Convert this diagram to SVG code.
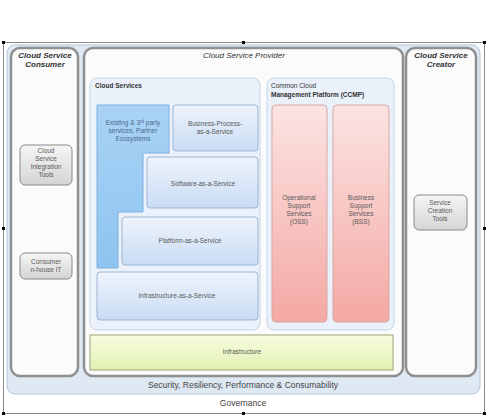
<svg xmlns="http://www.w3.org/2000/svg" width="487" height="418" viewBox="0 0 487 418">
<defs>
<linearGradient id="gBlue" x1="0" y1="0" x2="0" y2="1"><stop offset="0" stop-color="#eef3fb"/><stop offset="1" stop-color="#c9dcf4"/></linearGradient>
<linearGradient id="gPink" x1="0" y1="0" x2="0" y2="1"><stop offset="0" stop-color="#fbe4e2"/><stop offset="1" stop-color="#f4a8a4"/></linearGradient>
<linearGradient id="gGreen" x1="0" y1="0" x2="0" y2="1"><stop offset="0" stop-color="#f8fde0"/><stop offset="1" stop-color="#e0f0b0"/></linearGradient>
<linearGradient id="gGray" x1="0" y1="0" x2="0" y2="1"><stop offset="0" stop-color="#f6f6f6"/><stop offset="1" stop-color="#d4d4d4"/></linearGradient>
<linearGradient id="gL" x1="0" y1="0" x2="0" y2="1"><stop offset="0" stop-color="#a9d3f5"/><stop offset="1" stop-color="#8ec4f0"/></linearGradient>
</defs>
<style>
.col{fill:#fbfbfb;stroke:#8f8f8f;stroke-width:2.5}
.panel{fill:#eaf1fa;stroke:#c5d5e6;stroke-width:1}
.box{fill:url(#gBlue);stroke:#9fb6d2;stroke-width:1}
.pink{fill:url(#gPink);stroke:#d7a7a4;stroke-width:1}
.tool{fill:url(#gGray);stroke:#8a8a8a;stroke-width:1}
.t{font-family:"Liberation Sans",Arial,sans-serif;font-size:6.5px;fill:#5a5a5a;text-anchor:middle}
.h{font-family:"Liberation Sans",Arial,sans-serif;font-size:8px;font-weight:bold;font-style:italic;fill:#333;text-anchor:middle}
.s{font-family:"Liberation Sans",Arial,sans-serif;font-size:6.5px;font-weight:bold;fill:#333}
.b{font-family:"Liberation Sans",Arial,sans-serif;font-size:8.5px;fill:#444;text-anchor:middle}
.hd{fill:#000}
</style>
<rect x="3.5" y="42.5" width="481" height="371" fill="#ffffff" stroke="#8a8a8a" stroke-width="1"/>
<g id="security">
<rect x="7" y="45" width="473" height="349" rx="8" fill="#dfe9f4" stroke="#b5c6d8" stroke-width="1"/>
<text class="b" x="243" y="388">Security, Resiliency, Performance &amp; Consumability</text>
</g>
<g id="governance"><text class="b" x="243" y="406">Governance</text></g>
<g id="consumer">
<rect class="col" x="11" y="48" width="67" height="328" rx="9"/>
<text class="h" x="45" y="58">Cloud Service</text>
<text class="h" x="45" y="67">Consumer</text>
</g>
<g id="provider">
<rect class="col" x="84" y="48" width="319" height="328" rx="9"/>
<text class="h" x="244" y="58" style="font-weight:normal">Cloud Service Provider</text>
</g>
<g id="creator">
<rect class="col" x="406" y="48" width="70" height="328" rx="9"/>
<text class="h" x="441" y="58">Cloud Service</text>
<text class="h" x="441" y="67">Creator</text>
</g>
<g id="cloud-services">
<rect class="panel" x="90" y="78" width="170" height="252" rx="7"/>
<text class="s" x="95" y="88">Cloud Services</text>
</g>
<g id="ccmp">
<rect class="panel" x="267" y="78" width="127" height="252" rx="7"/>
<text class="s" x="271" y="88" style="font-weight:normal">Common Cloud</text>
<text class="s" x="271" y="97">Management Platform (CCMP)</text>
</g>
<g id="existing">
<path d="M97,105 H169 V153 H143 V212 H118 V268 H97 Z" fill="url(#gL)" stroke="#7fb0de" stroke-width="1"/>
<text class="t" x="133" y="125" style="fill:#4a6a8a">Existing &amp; 3<tspan font-size="4.5" dy="-2">rd</tspan><tspan dy="2"> party</tspan></text>
<text class="t" x="133" y="133" style="fill:#4a6a8a">services, Partner</text>
<text class="t" x="133" y="141" style="fill:#4a6a8a">Ecosystems</text>
</g>
<g id="bpaas">
<rect class="box" x="173" y="105" width="85" height="46" rx="3"/>
<text class="t" x="215" y="126">Business-Process-</text>
<text class="t" x="215" y="134">as-a-Service</text>
</g>
<g id="saas">
<rect class="box" x="147" y="157" width="111" height="51" rx="3"/>
<text class="t" x="203" y="186">Software-as-a-Service</text>
</g>
<g id="paas">
<rect class="box" x="122" y="217" width="136" height="48" rx="3"/>
<text class="t" x="190" y="243">Platform-as-a-Service</text>
</g>
<g id="iaas">
<rect class="box" x="97" y="272" width="161" height="48" rx="3"/>
<text class="t" x="177" y="298">Infrastructure-as-a-Service</text>
</g>
<g id="oss">
<rect class="pink" x="272" y="105" width="55" height="217" rx="4"/>
<text class="t" x="299" y="200">Operational</text>
<text class="t" x="299" y="208">Support</text>
<text class="t" x="299" y="216">Services</text>
<text class="t" x="299" y="224">(OSS)</text>
</g>
<g id="bss">
<rect class="pink" x="333" y="105" width="56" height="217" rx="4"/>
<text class="t" x="361" y="200">Business</text>
<text class="t" x="361" y="208">Support</text>
<text class="t" x="361" y="216">Services</text>
<text class="t" x="361" y="224">(BSS)</text>
</g>
<g id="infrastructure">
<rect x="90" y="335" width="303" height="35" fill="url(#gGreen)" stroke="#a9b48a" stroke-width="1.2"/>
<text class="t" x="242" y="354">Infrastructure</text>
</g>
<g id="integration-tools">
<rect class="tool" x="20" y="145" width="52" height="40" rx="5"/>
<text class="t" x="46" y="153">Cloud</text>
<text class="t" x="46" y="161">Service</text>
<text class="t" x="46" y="169">Integration</text>
<text class="t" x="46" y="177">Tools</text>
</g>
<g id="in-house-it">
<rect class="tool" x="20" y="253" width="52" height="26" rx="5"/>
<text class="t" x="46" y="264">Consumer</text>
<text class="t" x="46" y="272">n-house IT</text>
</g>
<g id="creation-tools">
<rect class="tool" x="414" y="195" width="53" height="35" rx="5"/>
<text class="t" x="440" y="205">Service</text>
<text class="t" x="440" y="213">Creation</text>
<text class="t" x="440" y="221">Tools</text>
</g>
<g id="connectors"></g>
<g id="handles">
<rect class="hd" x="2" y="41" width="3" height="3"/>
<rect class="hd" x="242" y="41" width="3" height="3"/>
<rect class="hd" x="483" y="41" width="3" height="3"/>
<rect class="hd" x="2" y="227" width="3" height="3"/>
<rect class="hd" x="483" y="227" width="3" height="3"/>
<rect class="hd" x="2" y="412" width="3" height="3"/>
<rect class="hd" x="242" y="412" width="3" height="3"/>
<rect class="hd" x="483" y="412" width="3" height="3"/>
</g>
</svg>
